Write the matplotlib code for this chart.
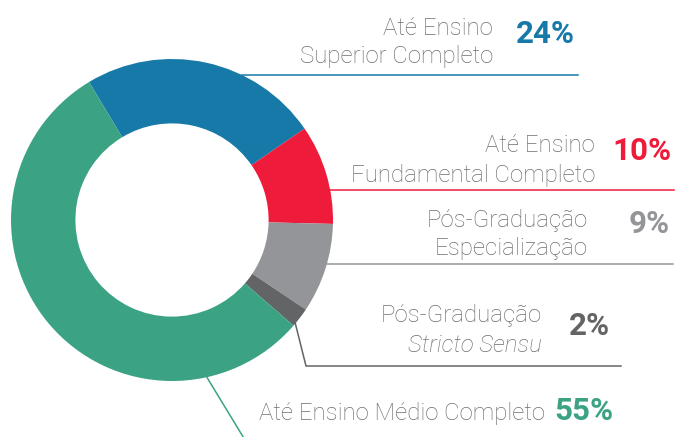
import numpy as np
import matplotlib
matplotlib.use("Agg")
import matplotlib.pyplot as plt

# dados
categorias = ["Até Ensino Superior Completo", "Até Ensino Fundamental Completo",
              "Pós-Graduação Especialização", "Pós-Graduação Stricto Sensu",
              "Até Ensino Médio Completo"]
valores = [24, 10, 9, 2, 55]
cores = ["#1679A8", "#EE1B3A", "#939598", "#636466", "#3BA384"]

W, H = 678, 437
CINZA = "#6D6E71"
plt.rcParams['font.family'] = ['Roboto', 'DejaVu Sans']

fig = plt.figure(figsize=(W / 100, H / 100), dpi=100)
ax = fig.add_axes([0, 0, 1, 1])

def py(y):  # y em pixels (de cima) -> coordenada do eixo
    return H - y

cx, cy, R = 172, py(220), 161
wedges, _ = ax.pie(valores, colors=cores, startangle=121, counterclock=False,
                   center=(cx, cy), radius=R,
                   wedgeprops=dict(width=R * 0.4, linewidth=0))
ax.set_xlim(0, W)
ax.set_ylim(0, H)
ax.set_aspect('equal')
ax.axis('off')

def x_borda(y):  # ponto na borda externa do anel na altura y
    return cx + np.sqrt(R ** 2 - (py(y) - cy) ** 2)

# linhas guia horizontais
for y, x2, c in [(75, 578, cores[0]), (190, 674, cores[1]), (264, 673, "#939598")]:
    ax.plot([x_borda(y), x2], [py(y), py(y)], color=c, lw=1.1)

# stricto sensu: sai da ponta da fatia junto ao verde
w = wedges[3]
ang = np.deg2rad(w.theta1 + 1)
x0, y0 = cx + R * np.cos(ang), cy + R * np.sin(ang)
ax.plot([x0, 306, 621], [y0, py(366), py(366)], color="#636466", lw=1.1)

# médio completo
ang = np.deg2rad(-77.5)
ax.plot([cx + R * np.cos(ang), 245], [cy + R * np.sin(ang), py(440)],
        color=cores[4], lw=1.1)

fs, fp = 17.3, 22.5
def rotulo(x, y, txt, **kw):
    ax.text(x, py(y), txt, fontsize=fs, color=CINZA, ha='right', va='baseline',
            fontweight='light', **kw)

def pct(x, y, txt, c):
    ax.text(x, py(y), txt, fontsize=fp, color=c, ha='left', va='baseline',
            fontweight='bold')

rotulo(493, 35, "Até Ensino")
rotulo(493, 63, "Superior Completo")
pct(516, 43, "24%", cores[0])

rotulo(595, 152, "Até Ensino")
rotulo(595, 182, "Fundamental Completo")
pct(612, 160, "10%", cores[1])

rotulo(588, 227, "Pós-Graduação")
rotulo(588, 255, "Especialização")
pct(629, 233, "9%", "#939598")

rotulo(542, 322, "Pós-Graduação")
rotulo(542, 352, "Stricto Sensu", fontstyle='italic')
pct(569, 335, "2%", "#636466")

ax.text(259, py(420), "Até Ensino Médio Completo", fontsize=fs, color=CINZA,
        ha='left', va='baseline', fontweight='light')
pct(554, 420, "55%", cores[4])

fig.savefig("out.png", dpi=100)
